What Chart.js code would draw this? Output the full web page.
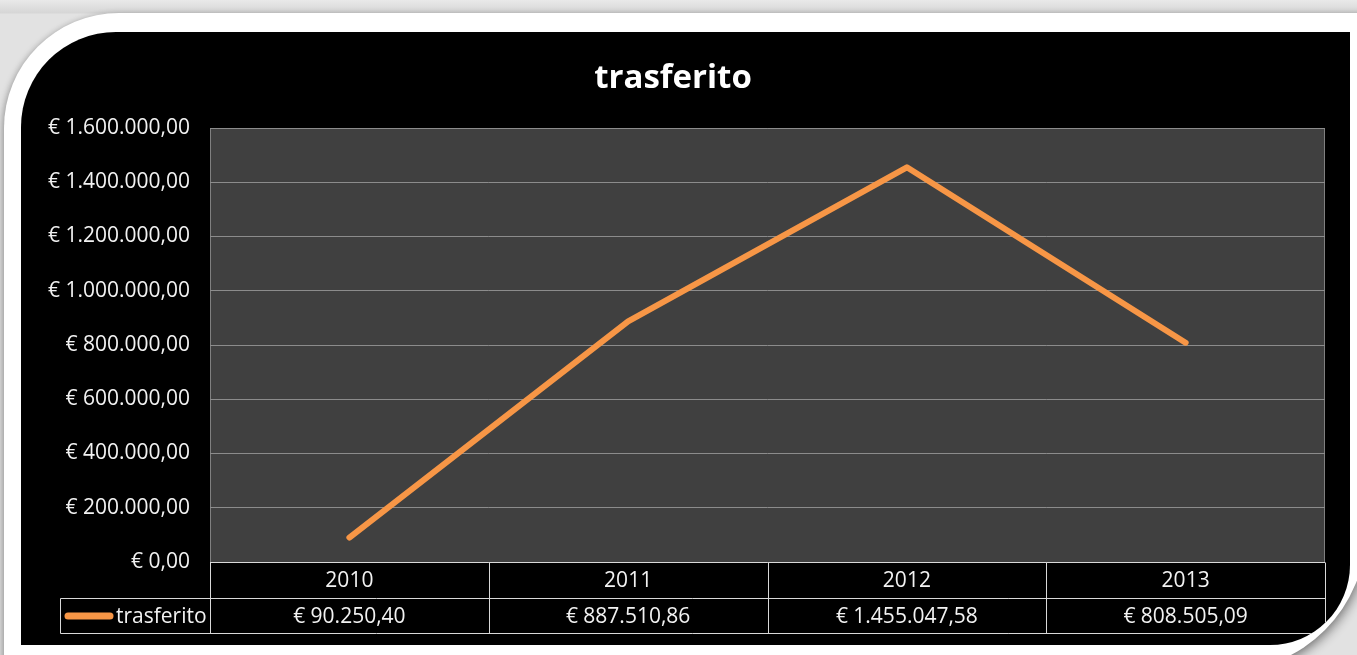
<!DOCTYPE html>
<html>
<head>
<meta charset="utf-8">
<script src="https://cdn.jsdelivr.net/npm/chart.js@4.4.1/dist/chart.umd.min.js"></script>
<style>
  html, body { margin: 0; padding: 0; }
  body {
    width: 1357px; height: 655px; overflow: hidden; position: relative;
    background: linear-gradient(#e9e9e9, #d6d6d6 13px, #e2e2e2 14px);
  }
  #cornice {
    position: absolute; left: 4px; top: 13px; width: 1362px; height: 658px;
    background: #fff;
    border-top-left-radius: 115px;
    border-bottom-right-radius: 140px;
    box-shadow: -2px 2px 6px rgba(0,0,0,0.25), 4px 4px 10px rgba(0,0,0,0.3);
  }
  #nero {
    position: absolute; left: 21px; top: 32px; width: 1329px; height: 613px;
    background: #000;
    border-top-left-radius: 95px;
    border-bottom-right-radius: 80px;
    overflow: hidden;
  }
  canvas { position: absolute; left: 0; top: 0; }
</style>
</head>
<body>
<div id="cornice"></div>
<div id="nero"><canvas id="grafico" width="1329" height="613"></canvas></div>
<script>
// dati
const anni = ["2010", "2011", "2012", "2013"];
const trasferito = [90250.40, 887510.86, 1455047.58, 808505.09];
const tickY = [0, 200000, 400000, 600000, 800000, 1000000, 1200000, 1400000, 1600000];

const FONT = "'Open Sans', 'DejaVu Sans', sans-serif";
const ARANCIO = "#f79646";

// formato italiano: € 1.455.047,58
function euro(v) {
    const [intero, dec] = Math.abs(v).toFixed(2).split(".");
    const conPunti = intero.replace(/\B(?=(\d{3})+(?!\d))/g, ".");
    return "€ " + conPunti + "," + dec;
}

// sfondo grigio dell'area del grafico
const sfondoArea = {
    id: "sfondoArea",
    beforeDraw(chart) {
        const { ctx, chartArea: a } = chart;
        ctx.save();
        ctx.fillStyle = "#404040";
        ctx.fillRect(a.left, a.top, a.right - a.left, a.bottom - a.top);
        ctx.strokeStyle = "#808080";
        ctx.lineWidth = 1;
        ctx.beginPath();
        ctx.moveTo(a.left + 0.5, a.bottom);
        ctx.lineTo(a.left + 0.5, a.top + 0.5);
        ctx.lineTo(a.right - 0.5, a.top + 0.5);
        ctx.lineTo(a.right - 0.5, a.bottom);
        ctx.stroke();
        ctx.restore();
    }
};

// tabella dati sotto il grafico
const tabellaDati = {
    id: "tabellaDati",
    afterDraw(chart) {
        const { ctx, chartArea: a } = chart;
        const x = chart.scales.x;
        const larg = (x.right - x.left) / anni.length;
        const r0 = Math.round(a.bottom) + 0.5;
        const r1 = r0 + 36;
        const r2 = r1 + 35;
        const legSx = 39.5;

        ctx.save();
        ctx.strokeStyle = "#d9d9d9";
        ctx.lineWidth = 1;
        ctx.beginPath();
        // orizzontali
        ctx.moveTo(a.left, r0); ctx.lineTo(a.right, r0);
        ctx.moveTo(legSx, r1); ctx.lineTo(a.right, r1);
        ctx.moveTo(legSx, r2); ctx.lineTo(a.right, r2);
        // verticali
        ctx.moveTo(legSx, r1); ctx.lineTo(legSx, r2);
        for (let i = 0; i <= anni.length; i++) {
            const xx = Math.round(x.left + i * larg) + 0.5;
            ctx.moveTo(xx, r0); ctx.lineTo(xx, r2);
        }
        ctx.stroke();

        ctx.fillStyle = "#f2f2f2";
        ctx.font = "21px " + FONT;
        ctx.textAlign = "center";
        ctx.textBaseline = "middle";
        anni.forEach((anno, i) => {
            const cx = x.getPixelForValue(i);
            ctx.fillText(anno, cx, (r0 + r1) / 2 + 1);
            ctx.fillText(euro(trasferito[i]), cx, (r1 + r2) / 2 + 1);
        });

        // chiave legenda
        const ym = (r1 + r2) / 2;
        ctx.strokeStyle = ARANCIO;
        ctx.lineWidth = 7;
        ctx.lineCap = "round";
        ctx.beginPath();
        ctx.moveTo(47, ym); ctx.lineTo(89, ym);
        ctx.stroke();
        ctx.textAlign = "left";
        ctx.fillText("trasferito", 95, ym + 1);
        ctx.restore();
    }
};

const ctx = document.getElementById("grafico").getContext("2d");
new Chart(ctx, {
    type: "line",
    data: {
        labels: anni,
        datasets: [{
            label: "trasferito",
            data: trasferito,
            borderColor: ARANCIO,
            borderWidth: 6,
            borderCapStyle: "round",
            borderJoinStyle: "round",
            pointRadius: 0,
            tension: 0
        }]
    },
    options: {
        responsive: false,
        animation: false,
        layout: { padding: { left: 0, right: 25, top: 0, bottom: 83 } },
        plugins: {
            legend: { display: false },
            tooltip: { enabled: false },
            title: {
                display: true,
                text: "trasferito",
                color: "#ffffff",
                font: { family: FONT, size: 33, weight: "bold" },
                padding: { top: 27, bottom: 29.4 }
            }
        },
        scales: {
            x: { type: "category", offset: true, display: false },
            y: {
                min: 0,
                max: 1600000,
                afterBuildTicks(s) { s.ticks = tickY.map(v => ({ value: v })); },
                afterFit(s) { s.width = 189; },
                ticks: {
                    color: "#f2f2f2",
                    font: { family: FONT, size: 21 },
                    padding: 20,
                    callback: v => euro(v)
                },
                grid: { color: "#8c8c8c", drawTicks: false },
                border: { display: false }
            }
        }
    },
    plugins: [sfondoArea, tabellaDati]
});
</script>
</body>
</html>
